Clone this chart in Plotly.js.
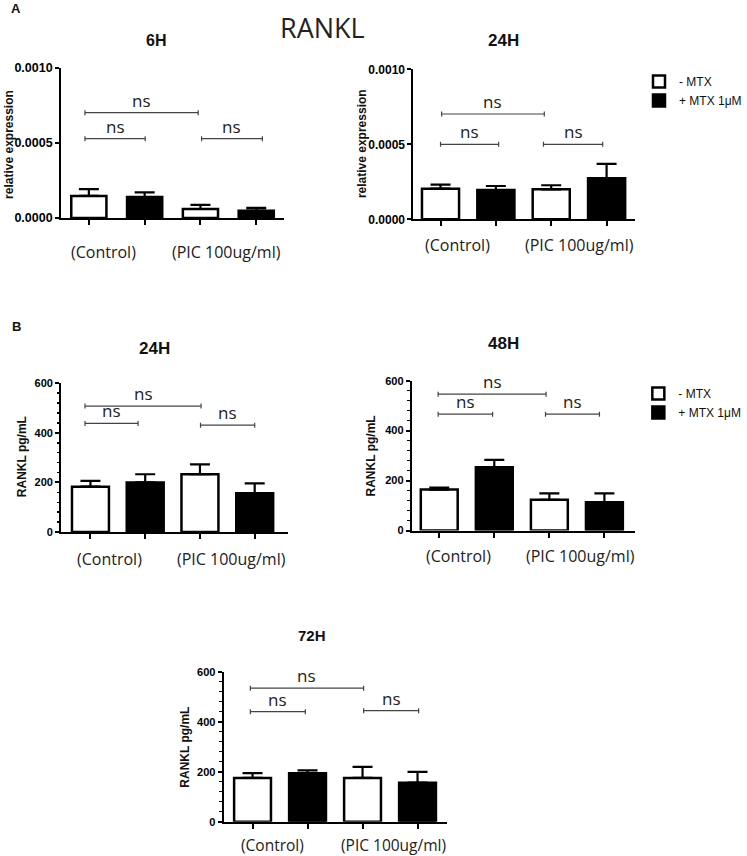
<!DOCTYPE html>
<html><head><meta charset="utf-8">
<script src="https://cdn.plot.ly/plotly-3.0.1.min.js"></script>
<style>html,body{margin:0;padding:0;background:#fff}#chart{width:747px;height:856px}</style>
</head><body><div id="chart"></div>
<script>
// ---- data ----
const categories = ['(Control)', '(PIC 100ug/ml)'];
const seriesNames = ['- MTX', '+ MTX 1\u03bcM'];
const panelTitles = ['6H', '24H', '24H', '48H', '72H'];
const yTitleA = 'relative expression';
const yTitleB = 'RANKL pg/mL';
const yTicksA = [0, 0.0005, 0.001];
const yTicksB = [0, 200, 400, 600];

const a6hMinus = [0.000147, 0.000060];
const a6hMinusErr = [0.000046, 0.000027];
const a6hPlus = [0.000140, 0.000049];
const a6hPlusErr = [0.000031, 0.000018];

const a24hMinus = [0.000204, 0.000200];
const a24hMinusErr = [0.000027, 0.000027];
const a24hPlus = [0.000195, 0.000273];
const a24hPlusErr = [0.000027, 0.000096];

const b24hMinus = [183, 233];
const b24hMinusErr = [23, 40];
const b24hPlus = [200, 156];
const b24hPlusErr = [33, 40];

const b48hMinus = [164, 123];
const b48hMinusErr = [8, 26];
const b48hPlus = [253, 113];
const b48hPlusErr = [30, 36];

const b72hMinus = [175, 175];
const b72hMinusErr = [19, 44];
const b72hPlus = [194, 156];
const b72hPlusErr = [11, 43];

const sigLabel = 'ns';

// ---- layout config (positions in px) ----
const W = 747, H = 856;
const px = v => v / W, py = v => 1 - v / H;

const panels = [
  {title: panelTitles[0], tx: 158, ty: 41, ts: 16, dx: [62, 288], dy: [68, 218], xr: [-0.496, 3.5], yr: [0, 0.001],
   yt: yTitleA, ytx: 9, yty: 144, tv: yTicksA, fmt: '.4f', tfs: 12.5, bw: 0.63, lab: [0.26, 2.46], labDy: 34, labFs: 16,
   minus: a6hMinus, minusErr: a6hMinusErr, plus: a6hPlus, plusErr: a6hPlusErr, legend: null,
   br: [[-0.07, 1.96, 0.000702], [-0.07, 1.01, 0.000529], [2.02, 3.11, 0.000529]]},
  {title: panelTitles[1], tx: 510, ty: 41, ts: 17, dx: [419, 644], dy: [69.3, 219.3], xr: [-0.49, 3.52], yr: [0, 0.001],
   yt: yTitleA, ytx: 367, yty: 144, tv: yTicksA, fmt: '.4f', tfs: 12, bw: 0.67, lab: [0.31, 2.51], labDy: 26, labFs: 16,
   minus: a24hMinus, minusErr: a24hMinusErr, plus: a24hPlus, plusErr: a24hPlusErr, legend: 'legend',
   br: [[0.02, 1.875, 0.000702], [0.0, 1.05, 0.0005], [1.86, 2.93, 0.0005]]},
  {title: panelTitles[2], tx: 157, ty: 348, ts: 17, dx: [62, 292], dy: [383.3, 532], xr: [-0.535, 3.61], yr: [0, 600],
   yt: yTitleB, ytx: 22.5, yty: 457, tv: yTicksB, fmt: 'd', tfs: 11, bw: 0.675, lab: [0.35, 2.58], labDy: 27, labFs: 16,
   minus: b24hMinus, minusErr: b24hMinusErr, plus: b24hPlus, plusErr: b24hPlusErr, legend: null,
   br: [[-0.1, 2.02, 508], [-0.1, 0.87, 438], [2.01, 3.0, 431]]},
  {title: panelTitles[3], tx: 510, ty: 343, ts: 17, dx: [417.3, 643.3], dy: [380.7, 530.5], xr: [-0.5, 3.55], yr: [0, 600],
   yt: yTitleB, ytx: 376.5, yty: 456, tv: yTicksB, fmt: 'd', tfs: 11, bw: 0.67, lab: [0.35, 2.56], labDy: 25, labFs: 16,
   minus: b48hMinus, minusErr: b48hMinusErr, plus: b48hPlus, plusErr: b48hPlusErr, legend: 'legend2',
   br: [[-0.02, 1.94, 546], [-0.02, 0.97, 466], [1.93, 2.91, 466]]},
  {title: panelTitles[4], tx: 316.7, ty: 635, ts: 15, dx: [226.7, 453.3], dy: [671.7, 821.7], xr: [-0.525, 3.54], yr: [0, 600],
   yt: yTitleB, ytx: 187.5, yty: 746.7, tv: yTicksB, fmt: 'd', tfs: 11, bw: 0.67, lab: [0.36, 2.57], labDy: 23, labFs: 15.5,
   minus: b72hMinus, minusErr: b72hMinusErr, plus: b72hPlus, plusErr: b72hPlusErr, legend: null,
   br: [[-0.04, 2.02, 534], [-0.04, 0.96, 440], [2.02, 3.02, 444]]}
];

const boldFont = 'Liberation Sans, Arial, sans-serif';
const lightFont = 'Open Sans, Noto Sans, sans-serif';

const traces = [];
const annotations = [];
const shapes = [];
const layout = {
  width: W, height: H, margin: {l: 0, r: 0, t: 0, b: 0},
  paper_bgcolor: '#fff', plot_bgcolor: '#fff',
  showlegend: true,
  legend: {x: px(648), y: py(67), xanchor: 'left', yanchor: 'top', bgcolor: 'rgba(0,0,0,0)',
           font: {family: boldFont, size: 12, color: '#111'}, tracegroupgap: 0},
  legend2: {x: px(647), y: py(379), xanchor: 'left', yanchor: 'top', bgcolor: 'rgba(0,0,0,0)',
           font: {family: boldFont, size: 12, color: '#111'}, tracegroupgap: 0},
  annotations: annotations, shapes: shapes, bargap: 0
};

panels.forEach((p, i) => {
  const n = i + 1;
  const xa = 'x' + (n === 1 ? '' : n), ya = 'y' + (n === 1 ? '' : n);
  const xk = 'xaxis' + (n === 1 ? '' : n), yk = 'yaxis' + (n === 1 ? '' : n);
  const xMinus = categories.map((c, k) => 2 * k);
  const xPlus = categories.map((c, k) => 2 * k + 1);
  const groups = [
    {name: seriesNames[0], x: xMinus, y: p.minus, err: p.minusErr, fill: '#ffffff'},
    {name: seriesNames[1], x: xPlus, y: p.plus, err: p.plusErr, fill: '#000000'}
  ];
  groups.forEach(g => {
    traces.push({
      type: 'bar', name: g.name, x: g.x, y: g.y, xaxis: xa, yaxis: ya, width: p.bw,
      marker: {color: g.fill, line: {color: '#000', width: 2.5}},
      error_y: {type: 'data', symmetric: false, array: g.err, arrayminus: g.err.map(() => 0),
                color: '#000', thickness: 2.2, width: 10},
      showlegend: !!p.legend, legend: p.legend || 'legend', hoverinfo: 'skip'
    });
  });
  layout[xk] = {domain: [px(p.dx[0]), px(p.dx[1])], range: p.xr, anchor: ya,
    showline: true, linewidth: 2, linecolor: '#000', ticks: 'outside', ticklen: 5, tickwidth: 2, tickcolor: '#000',
    tickvals: [0, 1, 2, 3], showticklabels: false, showgrid: false, zeroline: false, fixedrange: true};
  const yAx = {domain: [py(p.dy[1]), py(p.dy[0])], range: p.yr, anchor: xa,
    showline: true, linewidth: 2, linecolor: '#000', ticks: 'outside', ticklen: 4, tickwidth: 2, tickcolor: '#000',
    tickvals: p.tv, tickformat: p.fmt, tickfont: {family: boldFont, size: p.tfs, color: '#000', weight: 'bold'},
    showgrid: false, zeroline: false, fixedrange: true};
  if (p.yr[1] > 1) yAx.minor = {dtick: 40, ticks: 'outside', ticklen: 2.5, tickwidth: 1.5, tickcolor: '#000', showgrid: false};
  layout[yk] = yAx;

  // panel title
  annotations.push({xref: 'paper', yref: 'paper', x: px(p.tx), y: py(p.ty), text: '<b>' + p.title + '</b>',
    showarrow: false, xanchor: 'center', yanchor: 'middle', font: {family: boldFont, size: p.ts, color: '#111'}});
  // y title
  annotations.push({xref: 'paper', yref: 'paper', x: px(p.ytx), y: py(p.yty), text: '<b>' + p.yt + '</b>',
    textangle: -90, showarrow: false, xanchor: 'center', yanchor: 'middle',
    font: {family: boldFont, size: 12, color: '#111'}});
  // category labels
  categories.forEach((c, k) => {
    annotations.push({xref: xa, yref: ya, x: p.lab[k], y: 0, yshift: -p.labDy, text: c, showarrow: false,
      xanchor: 'center', yanchor: 'middle', borderpad: 0, font: {family: lightFont, size: p.labFs, color: '#222'}});
  });
  // significance brackets
  const cap = p.yr[1] * 2.5 / 150;
  p.br.forEach(b => {
    const ln = {color: '#444', width: 1.2};
    shapes.push({type: 'line', xref: xa, yref: ya, x0: b[0], x1: b[1], y0: b[2], y1: b[2], line: ln});
    shapes.push({type: 'line', xref: xa, yref: ya, x0: b[0], x1: b[0], y0: b[2] - cap, y1: b[2] + cap, line: ln});
    shapes.push({type: 'line', xref: xa, yref: ya, x0: b[1], x1: b[1], y0: b[2] - cap, y1: b[2] + cap, line: ln});
    annotations.push({xref: xa, yref: ya, x: (b[0] + b[1]) / 2, y: b[2], text: sigLabel, showarrow: false,
      xanchor: 'center', yanchor: 'bottom', yshift: -1, font: {family: lightFont, size: 17, color: '#222'}});
  });
});

// figure-level texts
annotations.push({xref: 'paper', yref: 'paper', x: px(326.7), y: py(28), text: 'RANKL', showarrow: false,
  xanchor: 'center', yanchor: 'middle', font: {family: lightFont, size: 27, color: '#222'}});
annotations.push({xref: 'paper', yref: 'paper', x: px(16.7), y: py(8.7), text: '<b>A</b>', showarrow: false,
  xanchor: 'center', yanchor: 'middle', font: {family: boldFont, size: 13, color: '#111'}});
annotations.push({xref: 'paper', yref: 'paper', x: px(16.7), y: py(326.7), text: '<b>B</b>', showarrow: false,
  xanchor: 'center', yanchor: 'middle', font: {family: boldFont, size: 13, color: '#111'}});

Plotly.newPlot('chart', traces, layout, {displayModeBar: false, staticPlot: true});
</script></body></html>
